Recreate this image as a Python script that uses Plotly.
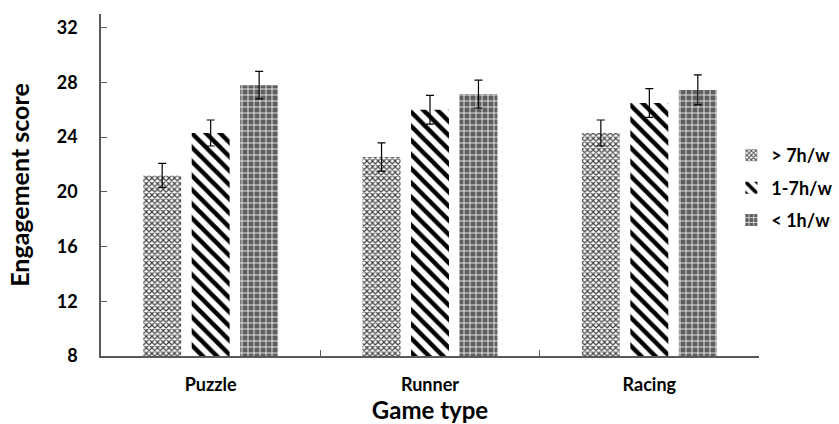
import plotly.graph_objects as go

# Game categories and mean engagement scores per weekly play-time group
game_types = ["Puzzle", "Runner", "Racing"]
groups = ["> 7h/w", "1-7h/w", "< 1h/w"]

over_7h = [21.2, 22.55, 24.3]
h_1_to_7 = [24.3, 26.0, 26.5]
under_1h = [27.8, 27.15, 27.45]

# Standard errors
over_7h_err = [0.88, 1.03, 0.95]
h_1_to_7_err = [0.95, 1.05, 1.05]
under_1h_err = [1.0, 1.02, 1.1]

y_ticks = [8, 12, 16, 20, 24, 28, 32]

FONT = "Lato"

patterns = [
    dict(shape="x", size=4, solidity=0.5, fgcolor="#404040", bgcolor="#ffffff", fillmode="overlay", fgopacity=1),
    dict(shape="\\", size=10, solidity=0.45, fgcolor="#000000", bgcolor="#ffffff", fillmode="overlay", fgopacity=1),
    dict(shape="+", size=6, solidity=0.25, fgcolor="#ffffff", bgcolor="#5f5f5f", fillmode="overlay", fgopacity=1),
]
base_colors = ["#ffffff", "#ffffff", "#5f5f5f"]
values = [over_7h, h_1_to_7, under_1h]
errors = [over_7h_err, h_1_to_7_err, under_1h_err]

fig = go.Figure()
for i, name in enumerate(groups):
    fig.add_trace(go.Bar(
        x=game_types,
        y=values[i],
        name=name,
        legendgroup=name,
        marker=dict(color=base_colors[i], pattern=patterns[i], line=dict(width=0)),
        error_y=dict(type="data", array=errors[i], color="#000000", thickness=1.2, width=4),
    ))

fig.update_layout(
    width=839,
    height=424,
    margin=dict(l=100.5, r=80, t=14, b=68, autoexpand=False),
    paper_bgcolor="#ffffff",
    plot_bgcolor="#ffffff",
    barmode="group",
    bargap=0.337,
    bargroupgap=0.217,
    font=dict(family=FONT, color="#000000"),
    showlegend=True,
    legend=dict(
        x=0.958, xanchor="left", xref="paper",
        y=0.491, yanchor="middle",
        font=dict(family=FONT, size=18, color="#000000", weight="bold"),
        tracegroupgap=6,
        bgcolor="rgba(0,0,0,0)",
    ),
    xaxis=dict(
        showline=True, linecolor="#595959", linewidth=1.5,
        ticks="inside", ticklen=6, tickcolor="#595959", tickwidth=1.2,
        tickson="boundaries",
        showgrid=False,
        tickfont=dict(family=FONT, size=18, weight="bold"),
        ticklabelstandoff=12,
        title=dict(text="Game type", font=dict(family=FONT, size=24, weight="bold"), standoff=0),
        automargin=False,
    ),
    yaxis=dict(
        range=[8, 33],
        tickvals=y_ticks,
        showline=True, linecolor="#595959", linewidth=1.5,
        ticks="inside", ticklen=6, tickcolor="#595959", tickwidth=1.2,
        showgrid=False, zeroline=False,
        tickfont=dict(family=FONT, size=18, weight="bold"),
        ticklabelstandoff=18,
        title=dict(text="Engagement score", font=dict(family=FONT, size=25, weight="bold"), standoff=20),
        automargin=False,
    ),
)

fig.write_html("out.html")
